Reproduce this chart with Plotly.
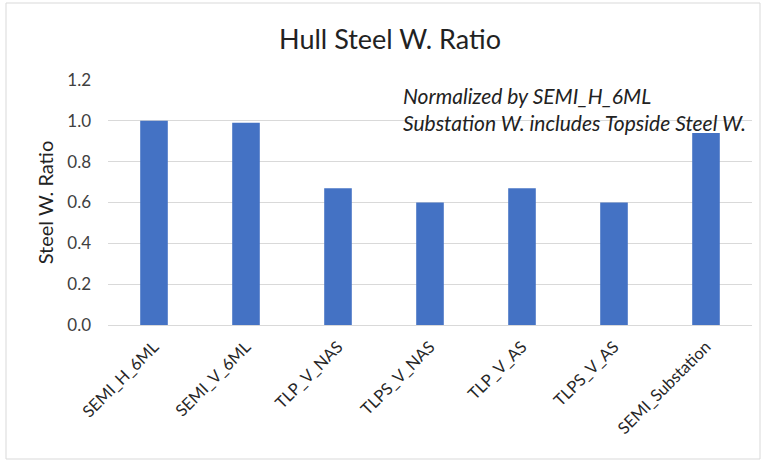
import plotly.graph_objects as go

categories = ["SEMI_H_6ML", "SEMI_V_6ML", "TLP_V_NAS", "TLPS_V_NAS", "TLP_V_AS", "TLPS_V_AS", "SEMI_Substation"]
ratios = [1.00, 0.99, 0.67, 0.60, 0.67, 0.60, 0.94]
y_ticks = [0.0, 0.2, 0.4, 0.6, 0.8, 1.0, 1.2]
y_tick_labels = ["0.0", "0.2", "0.4", "0.6", "0.8", "1.0", "1.2"]

W, H = 766, 463
L, R, T, B = 108, 14, 80, 138
pw, ph = W - L - R, H - T - B

def px_x(x):
    return (x - L) / pw

def px_y(y):
    return (H - B - y) / ph

FONT = "Lato, 'Open Sans', sans-serif"

fig = go.Figure(go.Bar(
    x=categories, y=ratios,
    marker=dict(color="#4472C4", line=dict(width=0)),
))

fig.update_layout(
    width=W, height=H,
    margin=dict(l=L, r=R, t=T, b=B),
    paper_bgcolor="white", plot_bgcolor="white",
    bargap=0.70,
    showlegend=False,
    font=dict(family=FONT, color="#595959", size=13),
    title=dict(text="Hull Steel W. Ratio", x=390 / W, xanchor="center",
               y=1 - 40 / H, yanchor="middle",
               font=dict(family=FONT, size=27, color="#222222")),
    xaxis=dict(tickangle=-45, showgrid=False, showline=False, ticks="",
               ticklabelstandoff=8,
               tickfont=dict(size=16.5, color="#262626")),
    yaxis=dict(range=[0, 1.2], tickvals=y_ticks, ticktext=y_tick_labels,
               showgrid=True, gridcolor="#D9D9D9", gridwidth=1,
               zeroline=True, zerolinecolor="#D9D9D9", zerolinewidth=1,
               showline=False, ticks="", ticklabelstandoff=16,
               tickfont=dict(size=17, color="#404040"),
               title=dict(text="Steel W. Ratio", font=dict(size=20, color="#222222"), standoff=8)),
    shapes=[dict(type="rect", xref="paper", yref="paper",
                 x0=px_x(6), x1=px_x(760), y0=px_y(459), y1=px_y(3),
                 line=dict(color="#D9D9D9", width=1), fillcolor="rgba(0,0,0,0)", layer="below")],
    annotations=[dict(text="<i>Normalized by SEMI_H_6ML<br>Substation W. includes Topside Steel W.</i>",
                      xref="paper", yref="paper", x=px_x(401), y=px_y(81),
                      xanchor="left", yanchor="top", align="left", showarrow=False,
                      font=dict(family=FONT, size=21, color="#222222"))],
)

fig.write_html("out.html", config={"displayModeBar": False},
               post_script="document.body.style.margin='0';")
